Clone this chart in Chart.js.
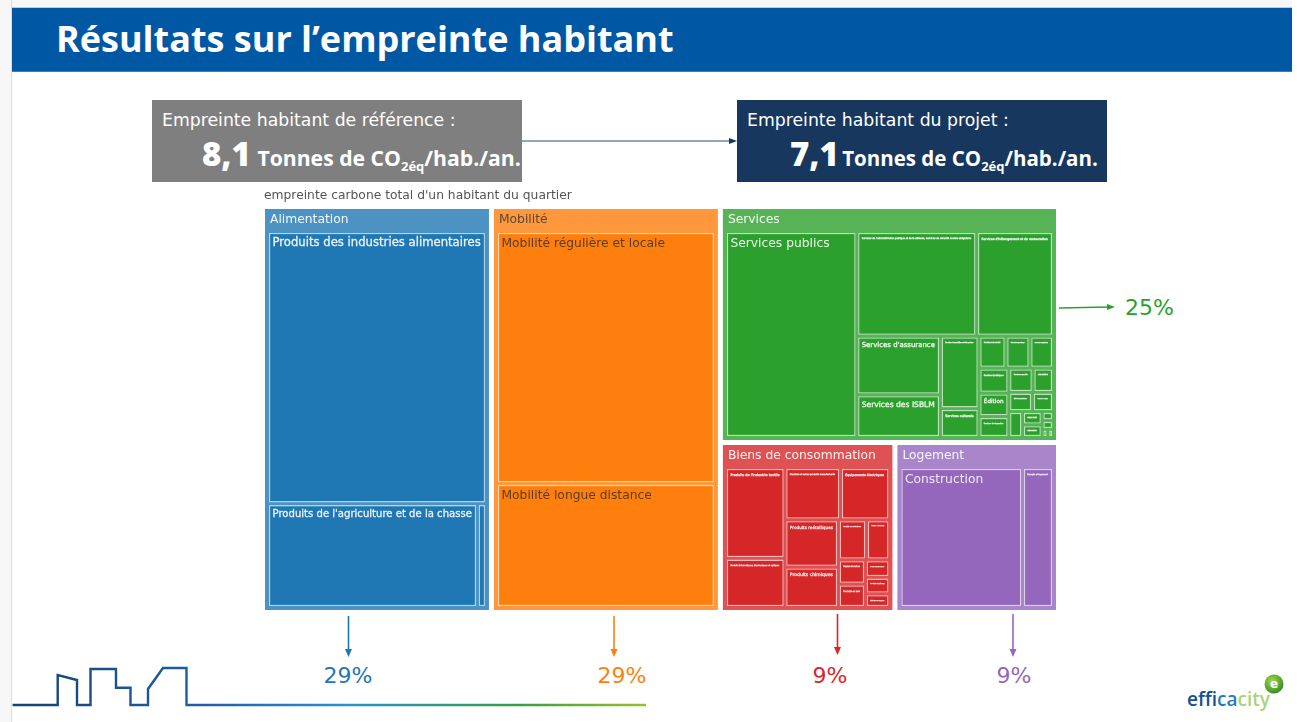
<!DOCTYPE html>
<html>
<head>
<meta charset="utf-8">
<title>Résultats sur l'empreinte habitant</title>
<script src="https://cdn.jsdelivr.net/npm/chart.js@4/dist/chart.umd.min.js"></script>
<style>
    html, body { margin: 0; padding: 0; background: #fff; }
    /* the reference is a slightly soft screenshot */
    #page { position: relative; width: 1297px; height: 722px; overflow: hidden; background: #fff; font-family: "DejaVu Sans", sans-serif; filter: blur(0.4px); }
    #margin-left { position: absolute; left: 0; top: 0; width: 11px; height: 722px; background: #f7f7f7; border-right: 1px solid #dcdcdc; }
    #margin-top { position: absolute; left: 0; top: 0; width: 1292px; height: 7px; background: #f7f7f7; border-bottom: 1px solid #c8c8c8; }
    #banner { position: absolute; left: 12px; top: 8px; width: 1280px; height: 64px; background: #0057a3; border-bottom: 1px solid #3b7fbb; box-sizing: border-box; }
    #banner h1 { position: absolute; left: 44px; top: 6px; margin: 0; color: #fff; font: bold 36px "Open Sans", sans-serif; white-space: nowrap; }
    .box { position: absolute; top: 100px; width: 370px; height: 82px; color: #fff; white-space: nowrap; }
    .box .head { position: absolute; left: 10px; top: 10px; font-size: 17.3px; }
    .box .big { position: absolute; top: 31px; font-weight: bold; font-family: "Open Sans", sans-serif; }
    .box .big b { font-size: 33px; margin-right: 1px; }
    .box sub { font-size: 13px; }
    #box-ref { left: 152px; background: #7f7f7f; }
    #box-ref .big { left: 50px; font-size: 21.2px; }
    #box-proj { left: 737px; background: #17375e; }
    #box-proj .big { left: 53px; font-size: 20.5px; }
    #box-proj .big b { margin-right: -2px; }
    #chart-wrap { position: absolute; left: 262px; top: 185px; width: 797px; height: 428px; }
    #deco { position: absolute; left: 0; top: 0; }
    #deco text { font-family: "DejaVu Sans", sans-serif; }
    #deco text.logo { font-family: "Open Sans", sans-serif; }
</style>
</head>
<body>
<div id="page">
    <div id="margin-top"></div>
    <div id="margin-left"></div>
    <div id="banner"><h1>Résultats sur l’empreinte habitant</h1></div>

    <svg id="deco" width="1297" height="722">
        <defs>
            <linearGradient id="groundLine" gradientUnits="userSpaceOnUse" x1="12" y1="0" x2="647" y2="0">
                <stop offset="0" stop-color="#17406f"/>
                <stop offset="0.3" stop-color="#1f5fa5"/>
                <stop offset="0.52" stop-color="#2a8fd0"/>
                <stop offset="0.8" stop-color="#37a040"/>
                <stop offset="1" stop-color="#9ac12b"/>
            </linearGradient>
            <radialGradient id="logoBall" cx="0.4" cy="0.35" r="0.7">
                <stop offset="0" stop-color="#a8d84a"/>
                <stop offset="1" stop-color="#2f8a1e"/>
            </radialGradient>
        </defs>
        <line x1="522" y1="141" x2="731" y2="141" stroke="#2b4a78" stroke-width="1"/>
        <polygon points="737,141 729,138 729,144" fill="#17375e"/>

        <line x1="1059" y1="308" x2="1109" y2="307" stroke="#2ca02c" stroke-width="1.6"/>
        <polygon points="1115,307 1107,304 1107,310" fill="#2ca02c"/>
        <text x="1125" y="315" font-size="22" fill="#2ca02c">25%</text>

        <line x1="348.5" y1="616" x2="348.5" y2="650" stroke="#1f77b4" stroke-width="1.6"/>
        <polygon points="348.5,657 345,649 352,649" fill="#1f77b4"/>
        <text x="348" y="683" font-size="22" fill="#1f77b4" text-anchor="middle">29%</text>

        <line x1="614" y1="616" x2="614" y2="650" stroke="#ff7f0e" stroke-width="1.6"/>
        <polygon points="614,657 610.500,649 617.500,649" fill="#ff7f0e"/>
        <text x="622" y="683" font-size="22" fill="#ff7f0e" text-anchor="middle">29%</text>

        <line x1="837.500" y1="614" x2="837.500" y2="648" stroke="#d62728" stroke-width="1.6"/>
        <polygon points="837.500,655 834,647 841,647" fill="#d62728"/>
        <text x="830" y="683" font-size="22" fill="#d62728" text-anchor="middle">9%</text>

        <line x1="1013" y1="614" x2="1013" y2="650" stroke="#9467bd" stroke-width="1.6"/>
        <polygon points="1013,657 1009.500,649 1016.500,649" fill="#9467bd"/>
        <text x="1014" y="683" font-size="22" fill="#9467bd" text-anchor="middle">9%</text>

        <polyline fill="none" stroke="url(#groundLine)" stroke-width="2.4"
            points="12.600,705 57.700,705 57.700,675 77,680 77,705 90.500,705 90.500,669 116,669 116,687.700 130.500,687.700 130.500,705 148,705 148,689 163,668 186.500,668 186.500,705 646,705"/>

        <circle cx="1274" cy="684" r="9.500" fill="url(#logoBall)"/>
        <text x="1274" y="688" font-size="12" font-weight="bold" fill="#fff" text-anchor="middle">e</text>
        <text class="logo" x="1187" y="706" font-size="19" font-weight="600"><tspan fill="#164f8c">eff</tspan><tspan fill="#1f7cc0">ica</tspan><tspan fill="#a9d47a">city</tspan></text>
    </svg>

    <div class="box" id="box-ref">
        <div class="head">Empreinte habitant de référence :</div>
        <div class="big"><b>8,1</b> Tonnes de CO<sub>2éq</sub>/hab./an.</div>
    </div>
    <div class="box" id="box-proj">
        <div class="head">Empreinte habitant du projet :</div>
        <div class="big"><b>7,1</b> Tonnes de CO<sub>2éq</sub>/hab./an.</div>
    </div>

    <div id="chart-wrap"><canvas id="treemap_chart" width="797" height="428"></canvas></div>
</div>

<script>
// Names under about 3px in the picture cannot be read: those are best guesses.
var chartTitle = "empreinte carbone total d'un habitant du quartier";
var groupNames = ["Alimentation", "Mobilité", "Services", "Biens de consommation", "Logement"];

var alimentationLabels = ["Produits des industries alimentaires", "Produits de l'agriculture et de la chasse", "Produits de la pêche"];
var alimentationValues = [1479, 540, 23];

var mobiliteLabels = ["Mobilité régulière et locale", "Mobilité longue distance"];
var mobiliteValues = [1369, 673];

var servicesLabels = [
    "Services publics",
    "Services de l'administration publique et de la défense, services de sécurité sociale obligatoire",
    "Services d'hébergement et de restauration",
    "Services d'assurance",
    "Services des ISBLM",
    "Services immobiliers et financiers",
    "Services culturels",
    "Services de santé",
    "Services postaux",
    "Services juridiques",
    "Services d'ingénierie",
    "Édition",
    "Services de réparation",
    "Services sportifs",
    "Services de nettoyage",
    "Télécommunications",
    "Services de location",
    "Services d'emploi",
    "Services de sécurité",
    "Services de voyage",
    "Services audiovisuels",
    "Services de recherche",
    "Services vétérinaires",
    "Services divers"
];
var servicesValues = [702, 325.4, 208, 127.8, 92.1, 73, 28.7, 22.5, 20, 19.4, 19.5, 18.3, 16, 15.2, 12.7, 11.9, 10.5, 9.2, 6.7, 6.3, 2.65, 2.5, 1.2, 1.15];

var biensLabels = [
    "Produits de l'industrie textile",
    "Produits informatiques, électroniques et optiques",
    "Meubles et autres produits manufacturés",
    "Équipements électriques",
    "Produits métalliques",
    "Produits chimiques",
    "Produits en caoutchouc",
    "Machines et équipements",
    "Papier et carton",
    "Produits en bois",
    "Produits pharmaceutiques",
    "Produits minéraux",
    "Matériels de transport"
];
var biensValues = [153, 82.8, 82.4, 73, 71.8, 61.1, 32.1, 26.4, 18.6, 17.8, 12, 11.5, 9.3];

var logementLabels = ["Construction", "Énergie et logement"];
var logementValues = [488.2, 122.8];

var groupLabels = [alimentationLabels, mobiliteLabels, servicesLabels, biensLabels, logementLabels];
var groupValues = [alimentationValues, mobiliteValues, servicesValues, biensValues, logementValues];

var groupColors = ["#4c92c3", "#ff983d", "#56b356", "#de5253", "#a985ca"];
var leafColors = ["#1f77b4", "#ff7f0e", "#2ca02c", "#d62728", "#9467bd"];
var groupTextColors = ["#f4f8fb", "#5a4636", "#f4fbf4", "#fbf0f0", "#f8f4fb"];
var leafTextColors = ["#eaf3f9", "#5a3d20", "#eef8ee", "#f8e4e4", "#f0e8f6"];

var AREA_W = 793;
var AREA_H = 403;
var GROUP_GAP = 3;
var LEAF_GAP = 2.67;
var HEADER = 23.67;
var SIDE = 3.67;

function sum(list) {
    var total = 0;
    for (var i = 0; i < list.length; i++) {
        total += list[i];
    }
    return total;
}

// squarified layout, same row rule as d3-hierarchy
function squarify(nodes, x0, y0, x1, y1) {
    var value = 0;
    var i0 = 0, i1 = 0;
    var n = nodes.length;
    for (var i = 0; i < n; i++) {
        value += nodes[i].value;
    }
    while (i0 < n) {
        var dx = x1 - x0, dy = y1 - y0;
        var sumValue = nodes[i1++].value;
        var minValue = sumValue, maxValue = sumValue;
        var alpha = Math.max(dy / dx, dx / dy) / value;
        var beta = sumValue * sumValue * alpha;
        var minRatio = Math.max(maxValue / beta, beta / minValue);
        for (; i1 < n; ++i1) {
            var nodeValue = nodes[i1].value;
            sumValue += nodeValue;
            if (nodeValue < minValue) minValue = nodeValue;
            if (nodeValue > maxValue) maxValue = nodeValue;
            beta = sumValue * sumValue * alpha;
            var newRatio = Math.max(maxValue / beta, beta / minValue);
            if (newRatio > minRatio) {
                sumValue -= nodeValue;
                break;
            }
            minRatio = newRatio;
        }
        var row = nodes.slice(i0, i1);
        var cursor;
        if (dx < dy) {
            var rowBottom = y0 + dy * sumValue / value;
            cursor = x0;
            row.forEach(function (node) {
                node.x0 = cursor;
                cursor += dx * node.value / sumValue;
                node.x1 = cursor;
                node.y0 = y0;
                node.y1 = rowBottom;
            });
            y0 = rowBottom;
        } else {
            var rowRight = x0 + dx * sumValue / value;
            cursor = y0;
            row.forEach(function (node) {
                node.y0 = cursor;
                cursor += dy * node.value / sumValue;
                node.y1 = cursor;
                node.x0 = x0;
                node.x1 = rowRight;
            });
            x0 = rowRight;
        }
        value -= sumValue;
        i0 = i1;
    }
}

function buildTiles() {
    var groups = groupNames.map(function (name, g) {
        return { label: name, group: g, isGroup: true, value: sum(groupValues[g]) };
    });
    var half = GROUP_GAP / 2;
    squarify(groups, -half, -half, AREA_W + half, AREA_H + half);

    var tiles = [];
    groups.forEach(function (group) {
        group.x0 += half; group.y0 += half; group.x1 -= half; group.y1 -= half;
        tiles.push(group);
        var leaves = groupLabels[group.group].map(function (name, i) {
            return { label: name, group: group.group, isGroup: false, value: groupValues[group.group][i] };
        });
        leaves.sort(function (a, b) { return b.value - a.value; });
        squarify(leaves, group.x0 + SIDE, group.y0 + HEADER, group.x1 - SIDE, group.y1 - SIDE);
        leaves.forEach(function (leaf) {
            leaf.x0 += LEAF_GAP / 2; leaf.y0 += LEAF_GAP / 2;
            leaf.x1 -= LEAF_GAP / 2; leaf.y1 -= LEAF_GAP / 2;
            tiles.push(leaf);
        });
    });
    return tiles;
}

class TreemapController extends Chart.DatasetController {
    update(mode) {
        var rects = this._cachedMeta.data;
        this.updateElements(rects, 0, rects.length, mode);
    }

    updateElements(rects, start, count, mode) {
        var meta = this._cachedMeta;
        for (var i = start; i < start + count; i++) {
            var tile = this.getParsed(i);
            var left = meta.xScale.getPixelForValue(tile.x0);
            var right = meta.xScale.getPixelForValue(tile.x1);
            this.updateElement(rects[i], i, {
                horizontal: false,
                x: (left + right) / 2,
                y: meta.yScale.getPixelForValue(tile.y0),
                base: meta.yScale.getPixelForValue(tile.y1),
                width: right - left,
                height: meta.yScale.getPixelForValue(tile.y1) - meta.yScale.getPixelForValue(tile.y0),
                borderSkipped: {},
                enableBorderRadius: false,
                inflateAmount: 0,
                options: this.resolveDataElementOptions(i, mode)
            }, mode);
        }
    }

    getLabelAndValue(index) {
        var tile = this.getParsed(index);
        return { label: tile.label, value: tile.value.toFixed(1) };
    }
}
TreemapController.id = "treemap";
TreemapController.defaults = { datasetElementType: false, dataElementType: "bar" };
Chart.register(TreemapController);

// shrink a label until it fits its tile, as the original chart does
var tileLabels = {
    id: "tileLabels",
    afterDatasetsDraw: function (chart) {
        var ctx = chart.ctx;
        var meta = chart.getDatasetMeta(0);
        ctx.save();
        ctx.textBaseline = "middle";
        ctx.textAlign = "left";
        meta.data.forEach(function (rect, i) {
            var tile = chart.data.datasets[0].data[i];
            var inset = tile.isGroup ? 6 : 3.5;
            var room = rect.width - inset - 4;
            var size = 12.3;
            if (rect.width < 12) {
                return;
            }
            ctx.font = size + 'px "DejaVu Sans"';
            var textWidth = ctx.measureText(tile.label).width;
            var shrunk = textWidth > room;
            if (shrunk) {
                size = size * room / textWidth;
                ctx.font = size + 'px "DejaVu Sans"';
            }
            var color = tile.isGroup ? groupTextColors[tile.group] : leafTextColors[tile.group];
            var left = rect.x - rect.width / 2 + inset;
            var top = rect.y + (tile.isGroup ? 12 : 4.5 + size / 2);
            ctx.fillStyle = color;
            ctx.fillText(tile.label, left, top);
            if (shrunk) {
                // small labels look heavier in the reference
                ctx.strokeStyle = color;
                ctx.lineWidth = 0.3;
                ctx.strokeText(tile.label, left, top);
            }
        });
        ctx.restore();
    }
};

new Chart(document.getElementById("treemap_chart"), {
    type: "treemap",
    data: {
        datasets: [{
            label: chartTitle,
            data: buildTiles(),
            parsing: false,
            backgroundColor: function (c) {
                return c.raw.isGroup ? groupColors[c.raw.group] : leafColors[c.raw.group];
            },
            borderColor: function (c) {
                return c.raw.isGroup ? "rgba(255,255,255,0.35)" : "rgba(255,255,255,0.6)";
            },
            borderWidth: function (c) {
                return c.raw.isGroup ? 1 : 1.3;
            }
        }]
    },
    plugins: [tileLabels],
    options: {
        responsive: false,
        animation: false,
        layout: { padding: { left: 2, right: 2, bottom: 2 } },
        scales: {
            x: { type: "linear", display: false, min: 0, max: AREA_W },
            y: { type: "linear", display: false, min: 0, max: AREA_H, reverse: true }
        },
        plugins: {
            legend: { display: false },
            title: {
                display: true,
                text: chartTitle,
                align: "start",
                color: "#555",
                font: { family: '"DejaVu Sans"', size: 12.3, weight: "normal" },
                padding: { top: 3, bottom: 5.24 }
            },
            tooltip: { enabled: true }
        }
    }
});
</script>
</body>
</html>
